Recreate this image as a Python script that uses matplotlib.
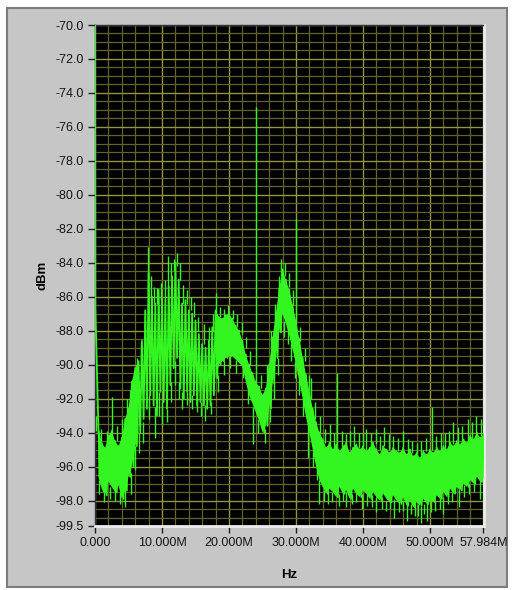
import numpy as np
import matplotlib
matplotlib.use("Agg")
import matplotlib.pyplot as plt
from matplotlib.patches import Rectangle
from matplotlib.ticker import MultipleLocator, FixedLocator

plt.rcParams['font.family'] = ['Liberation Sans', 'DejaVu Sans']

# spectrum body edges, sampled every 0.5 MHz from 0.5 to 58.0 MHz (dBm)
body_top = [
    -93.6, -94.6, -94.9, -94.2, -93.9, -94.5, -94.8, -94.3, -93.2, -92.6,
    -91.0, -90.2, -89.8, -88.6, -86.8, -84.6, -86.0, -86.4, -85.6, -86.2,
    -86.2, -85.4, -84.8, -84.0, -85.0, -86.4, -86.2, -86.8, -87.0, -87.4,
    -88.2, -88.8, -89.0, -88.6, -87.8, -86.8, -87.2, -87.3, -87.1, -87.0,
    -87.3, -87.7, -88.0, -88.6, -89.4, -90.0, -90.5, -91.0, -91.3, -91.8,
    -91.4, -90.0, -88.4, -87.0, -85.5, -84.4, -85.0, -85.6, -86.5, -87.4,
    -88.5, -89.6, -90.6, -91.6, -92.6, -93.4, -94.0, -94.4, -94.9, -94.6,
    -95.0, -94.7, -95.1, -94.8, -94.6, -95.2, -94.9, -94.7, -95.0, -94.8,
    -95.1, -94.9, -94.6, -95.0, -95.3, -94.8, -95.0, -95.2, -94.9, -95.1,
    -95.2, -94.9, -95.3, -95.0, -95.4, -95.2, -95.5, -95.1, -95.3, -95.0,
    -95.2, -94.9, -95.1, -94.8, -95.0, -94.6, -94.8, -94.5, -94.7, -94.4,
    -94.6, -94.2, -94.4, -94.0, -94.3, -94.1,
]
body_bot = [
    -96.6, -97.3, -97.7, -96.9, -97.2, -97.5, -97.1, -97.9, -97.4, -96.6,
    -96.0, -94.8, -94.0, -93.2, -92.6, -91.8, -92.4, -93.0, -91.6, -92.2,
    -92.6, -91.2, -90.2, -89.6, -91.4, -92.0, -91.6, -92.2, -91.8, -92.4,
    -92.2, -92.4, -92.6, -92.4, -91.8, -90.8, -90.0, -89.8, -89.6, -89.5,
    -89.5, -89.7, -89.9, -90.1, -91.0, -91.8, -92.3, -92.8, -93.3, -94.0,
    -93.6, -92.6, -91.1, -89.6, -88.1, -87.0, -87.6, -88.3, -89.1, -90.0,
    -91.0, -92.0, -93.1, -94.0, -95.0, -96.0, -96.8, -97.2, -97.6, -97.3,
    -97.5, -97.8, -97.2, -97.6, -97.4, -97.9, -97.3, -97.6, -97.8, -97.4,
    -97.6, -97.9, -97.5, -97.8, -98.0, -97.6, -97.9, -98.1, -97.7, -98.0,
    -98.2, -97.8, -98.3, -98.0, -98.4, -98.1, -98.3, -97.9, -98.2, -98.0,
    -98.1, -97.7, -97.9, -97.5, -97.8, -97.3, -97.6, -97.2, -97.4, -97.0,
    -97.2, -96.8, -97.0, -96.6, -96.9, -96.7,
]

# DC bin and first bin
dc_freq = [0.0, 0.05]
dc_level = [-60.0, -86.6]

# narrow upward spikes: (MHz, from dBm, to dBm)
up_spikes = [
    (0.2, -93.9, -93.0), (0.9, -94.5, -93.8), (1.8, -94.6, -93.9),
    (2.5, -94.0, -91.9), (3.3, -94.5, -93.6), (4.1, -94.2, -93.2),
    (4.8, -93.0, -92.0), (5.2, -92.5, -91.5), (5.8, -91.2, -90.4),
    (6.3, -90.5, -89.6), (6.9, -89.9, -88.8), (7.4, -88.6, -87.4),
    (7.9, -86.0, -83.1), (8.4, -86.2, -84.8), (8.8, -86.4, -85.4),
    (9.3, -86.4, -85.5), (9.8, -86.2, -85.2), (10.4, -86.2, -85.0),
    (10.9, -85.5, -83.6), (11.3, -85.0, -84.0), (11.8, -84.5, -83.8),
    (12.2, -84.2, -83.4), (12.7, -85.0, -84.0), (13.2, -86.4, -85.3),
    (13.7, -86.4, -85.6), (14.3, -86.8, -86.0), (14.8, -87.2, -86.3),
    (15.4, -88.0, -87.2), (16.2, -88.8, -87.6), (17.0, -88.6, -87.8),
    (17.6, -88.0, -87.0), (18.1, -87.0, -85.8), (18.7, -87.2, -86.6),
    (19.3, -87.2, -86.7), (19.9, -87.1, -86.5), (20.6, -87.3, -86.8),
    (21.2, -87.8, -87.0), (21.9, -88.2, -87.5), (22.6, -89.0, -88.4),
    (23.2, -90.0, -89.2), (24.0, -91.0, -74.8), (24.8, -91.4, -90.6),
    (25.6, -91.0, -90.0), (26.3, -89.0, -88.0), (26.9, -87.5, -86.4),
    (27.4, -86.0, -84.8), (27.8, -84.8, -83.8), (28.4, -84.8, -84.0),
    (29.0, -85.4, -84.6), (29.6, -86.5, -85.6), (30.0, -87.5, -81.4),
    (30.6, -88.6, -87.8), (31.3, -89.8, -89.0), (32.0, -91.5, -90.6),
    (32.3, -92.0, -90.8), (32.9, -93.2, -92.2), (33.6, -94.0, -93.0),
    (34.3, -94.6, -93.8), (35.0, -94.8, -93.5), (35.6, -94.9, -94.0),
    (36.1, -95.0, -90.5), (36.8, -94.8, -93.9), (37.4, -94.9, -94.1),
    (38.1, -94.8, -93.9), (38.7, -94.8, -93.6), (39.4, -94.9, -94.0),
    (40.0, -94.8, -94.0), (40.5, -95.0, -93.8), (41.2, -94.9, -94.0),
    (41.9, -94.7, -93.8), (42.6, -95.0, -94.2), (43.2, -94.8, -93.7),
    (43.9, -95.0, -94.1), (44.5, -95.0, -94.2), (45.2, -95.1, -94.3),
    (46.0, -95.0, -93.9), (46.7, -95.2, -94.4), (47.3, -95.2, -94.5),
    (48.0, -95.3, -94.6), (48.7, -95.3, -94.5), (49.4, -95.1, -94.3),
    (50.3, -95.0, -92.5), (50.9, -95.0, -94.2), (51.6, -95.0, -94.0),
    (52.3, -94.9, -94.0), (52.9, -94.8, -93.9), (53.5, -94.7, -93.4),
    (54.2, -94.6, -93.7), (54.8, -94.5, -93.6), (55.6, -94.5, -93.2),
    (56.3, -94.3, -93.4), (56.9, -94.2, -93.0), (57.6, -94.2, -93.2),
]

# narrow downward spikes: (MHz, from dBm, to dBm)
down_spikes = [
    (0.6, -96.8, -97.6), (1.4, -97.5, -98.1), (2.2, -97.2, -97.9),
    (3.0, -97.3, -98.0), (3.7, -97.5, -98.2), (4.5, -97.0, -98.4),
    (5.3, -96.4, -97.6), (6.0, -94.8, -96.2), (6.6, -94.0, -95.2),
    (7.2, -93.4, -94.6), (8.0, -91.8, -93.2), (8.9, -92.5, -94.3),
    (9.5, -91.6, -93.0), (10.0, -92.2, -93.5), (10.7, -92.6, -93.4),
    (11.4, -91.0, -92.2), (12.0, -89.8, -91.2), (12.6, -91.0, -92.0),
    (13.0, -91.6, -92.6), (13.8, -91.6, -92.4), (14.5, -91.8, -92.6),
    (15.2, -92.0, -92.8), (15.8, -92.2, -93.0), (16.4, -92.4, -93.3),
    (17.3, -92.2, -92.9), (18.4, -90.6, -91.6), (19.2, -89.8, -90.6),
    (20.2, -89.5, -90.2), (21.0, -89.7, -90.5), (22.1, -90.0, -90.8),
    (22.9, -91.5, -92.3), (23.6, -92.5, -94.7), (24.4, -93.2, -94.0),
    (25.3, -93.8, -94.6), (26.1, -92.6, -93.4), (26.7, -91.0, -92.0),
    (27.3, -89.6, -90.6), (28.2, -87.4, -88.4), (28.8, -87.8, -88.8),
    (29.3, -88.7, -89.8), (29.9, -89.8, -90.8), (30.4, -90.8, -91.8),
    (31.1, -92.0, -93.0), (31.8, -93.0, -95.5), (32.6, -95.0, -96.0),
    (33.1, -96.0, -96.8), (33.5, -96.8, -98.2), (34.2, -97.4, -98.0),
    (34.8, -97.4, -98.2), (35.4, -97.5, -98.1), (36.4, -97.6, -98.3),
    (37.0, -97.4, -98.0), (37.5, -97.5, -98.4), (38.3, -97.6, -98.2),
    (39.0, -97.5, -98.1), (39.8, -97.6, -98.5), (40.6, -97.6, -98.3),
    (41.3, -97.7, -98.4), (42.0, -97.8, -98.7), (42.8, -97.8, -98.5),
    (43.5, -98.0, -98.6), (44.0, -97.8, -98.5), (44.6, -97.9, -99.0),
    (45.3, -98.0, -98.7), (46.0, -98.0, -98.6), (46.6, -98.0, -99.2),
    (47.2, -98.2, -98.8), (47.7, -98.2, -98.9), (48.2, -98.2, -98.9),
    (48.6, -98.3, -99.3), (49.1, -98.2, -98.8), (49.6, -98.1, -99.2),
    (50.2, -98.0, -98.7), (50.8, -98.0, -98.6), (51.5, -97.8, -98.5),
    (52.0, -97.8, -98.8), (52.7, -97.6, -98.2), (53.3, -97.5, -98.1),
    (54.3, -97.3, -98.4), (55.0, -97.1, -97.8), (55.8, -97.0, -97.6),
    (56.5, -96.8, -97.5), (57.5, -96.8, -97.9),
]

x_ticks = [0, 10, 20, 30, 40, 50, 57.984]
x_labels = ['0.000', '10.000M', '20.000M', '30.000M', '40.000M', '50.000M', '57.984M']
y_ticks = [-70, -72, -74, -76, -78, -80, -82, -84, -86, -88, -90, -92, -94,
           -96, -98, -99.5]

green = '#33f51f'

fig = plt.figure(figsize=(5.14, 5.90), dpi=100, facecolor='white')
fig.patches.append(Rectangle((7 / 514, 3 / 590), 500 / 514, 579 / 590,
                             transform=fig.transFigure, facecolor='#c6c6c6',
                             edgecolor='#7c7c7c', linewidth=1.5, zorder=-10))

ax = fig.add_axes([95 / 514, 1 - 526 / 590, 388.5 / 514, 501 / 590])
ax.set_zorder(5)
ax.set_facecolor('black')

f_body = 0.5 * np.arange(1, len(body_top) + 1)

# solid core of the noise band, left open where the trace is very spiky
dense = (f_body < 7.0) | (f_body > 17.5)
ax.fill_between(f_body, body_top, body_bot, where=dense, color=green, lw=0,
                zorder=3)

# zig-zag trace through the body edges
xs = np.empty(2 * len(f_body))
ys = np.empty(2 * len(f_body))
xs[0::2] = f_body
xs[1::2] = f_body + 0.25
ys[0::2] = body_top
ys[1::2] = body_bot
xs = np.concatenate([dc_freq, xs])
ys = np.concatenate([dc_level, ys])
ax.plot(xs, ys, color=green, lw=1.3, zorder=3)

for spikes in (up_spikes, down_spikes):
    sf, s0, s1 = zip(*spikes)
    ax.vlines(sf, s0, s1, color=green, lw=1.0, zorder=3)

ax.set_xlim(0, 57.984)
ax.set_ylim(-99.5, -70)

ax.xaxis.set_major_locator(FixedLocator(x_ticks))
ax.set_xticklabels(x_labels)
ax.xaxis.set_minor_locator(MultipleLocator(2))
ax.yaxis.set_major_locator(FixedLocator(y_ticks))
ax.set_yticklabels([f'{v:.1f}' for v in y_ticks])
ax.yaxis.set_minor_locator(MultipleLocator(0.5))

ax.grid(which='minor', color='#62622c', lw=0.9, zorder=1)
ax.grid(which='major', color='#94943e', lw=1.0, zorder=2)
ax.set_axisbelow(True)

ax.tick_params(which='minor', length=0)
ax.tick_params(which='major', length=5, width=1, color='#202020',
               labelsize=9, labelcolor='#151515', pad=3)

for side in ['top', 'left']:
    ax.spines[side].set_color('#303040')
    ax.spines[side].set_linewidth(1)
for side in ['bottom', 'right']:
    ax.spines[side].set_color('#ececec')
    ax.spines[side].set_linewidth(2)

ax.set_xlabel('Hz', fontsize=9.5, fontweight='bold', labelpad=14)
ax.set_ylabel('dBm', fontsize=9.5, fontweight='bold', labelpad=5)

fig.savefig('out.png', dpi=100, facecolor='white')
